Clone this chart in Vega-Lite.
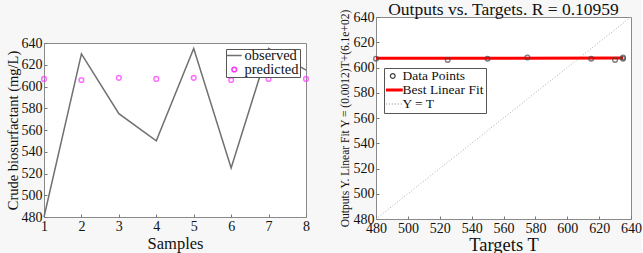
{
  "$schema": "https://vega.github.io/schema/vega-lite/v6.json",
  "background": "#f7f7f7",
  "padding": {"left": 4, "top": 0, "right": 0, "bottom": 0},
  "spacing": 26,
  "datasets": {
    "left": [
      {"sample": 1, "value": 480, "series": "observed"},
      {"sample": 2, "value": 630, "series": "observed"},
      {"sample": 3, "value": 575, "series": "observed"},
      {"sample": 4, "value": 550, "series": "observed"},
      {"sample": 5, "value": 635, "series": "observed"},
      {"sample": 6, "value": 525, "series": "observed"},
      {"sample": 7, "value": 635, "series": "observed"},
      {"sample": 8, "value": 615, "series": "observed"},
      {"sample": 1, "value": 607, "series": "predicted"},
      {"sample": 2, "value": 606, "series": "predicted"},
      {"sample": 3, "value": 608, "series": "predicted"},
      {"sample": 4, "value": 607, "series": "predicted"},
      {"sample": 5, "value": 608, "series": "predicted"},
      {"sample": 6, "value": 606, "series": "predicted"},
      {"sample": 7, "value": 607, "series": "predicted"},
      {"sample": 8, "value": 607, "series": "predicted"}
    ],
    "right": [
      {"t": 480, "y": 480, "series": "Y = T"},
      {"t": 640, "y": 640, "series": "Y = T"},
      {"t": 480, "y": 607.3, "series": "Best Linear Fit"},
      {"t": 635, "y": 607.5, "series": "Best Linear Fit"},
      {"t": 480, "y": 607, "series": "Data Points"},
      {"t": 630, "y": 606, "series": "Data Points"},
      {"t": 575, "y": 608, "series": "Data Points"},
      {"t": 550, "y": 607, "series": "Data Points"},
      {"t": 635, "y": 608, "series": "Data Points"},
      {"t": 525, "y": 606, "series": "Data Points"},
      {"t": 635, "y": 607, "series": "Data Points"},
      {"t": 615, "y": 607, "series": "Data Points"}
    ]
  },
  "resolve": {
    "scale": {"color": "independent", "shape": "independent"},
    "legend": {"color": "independent", "shape": "independent"}
  },
  "hconcat": [
    {
      "spacing": 0,
      "resolve": {
        "scale": {"color": "independent", "shape": "independent", "x": "independent", "y": "independent"},
        "legend": {"color": "independent", "shape": "independent"}
      },
      "vconcat": [
        {
          "width": 262,
          "height": 18,
          "data": {"values": []},
          "mark": "point",
          "view": {"stroke": null, "fill": null}
        },
        {
          "width": 262,
          "height": 174,
          "data": {"name": "left"},
          "encoding": {
            "x": {
              "field": "sample", "type": "quantitative",
              "scale": {"domain": [1, 8], "nice": false},
              "axis": {"values": [1, 2, 3, 4, 5, 6, 7, 8], "title": "Samples", "titleFontSize": 16.5, "titlePadding": 2}
            },
            "y": {
              "field": "value", "type": "quantitative",
              "scale": {"domain": [480, 640], "nice": false},
              "axis": {"values": [480, 500, 520, 540, 560, 580, 600, 620, 640], "title": "Crude biosurfactant (mg/L)", "titleFontSize": 14.5, "titlePadding": 1}
            },
            "color": {
              "field": "series", "type": "nominal",
              "scale": {"domain": ["observed", "predicted"], "range": ["#707070", "#ff33ff"]},
              "legend": {
                "orient": "top-right", "offset": 6, "title": null, "labelFontSize": 14.5,
                "rowPadding": -1, "padding": 1, "clipHeight": 11,
                "encode": {"symbols": {"update": {"size": {"signal": "datum.value === 'observed' ? 225 : 22"}}}}
              }
            }
          },
          "layer": [
            {
              "transform": [{"filter": "datum.series === 'observed'"}],
              "mark": {"type": "line", "strokeWidth": 1.5}
            },
            {
              "transform": [{"filter": "datum.series === 'predicted'"}],
              "mark": {"type": "point", "filled": false, "size": 22, "strokeWidth": 1.5},
              "encoding": {
                "shape": {
                  "field": "series", "type": "nominal",
                  "scale": {"domain": ["observed", "predicted"], "range": ["stroke", "circle"]},
                  "legend": {
                    "orient": "top-right", "offset": 6, "title": null, "labelFontSize": 14.5,
                    "rowPadding": -1, "padding": 1, "clipHeight": 11,
                    "encode": {"symbols": {"update": {"size": {"signal": "datum.value === 'observed' ? 225 : 22"}}}}
                  }
                }
              }
            }
          ]
        }
      ]
    },
    {
      "width": 255,
      "height": 202,
      "title": {"text": "Outputs vs. Targets. R = 0.10959", "fontSize": 17.5, "offset": -10},
      "data": {"name": "right"},
      "encoding": {
        "x": {
          "field": "t", "type": "quantitative",
          "scale": {"domain": [480, 640], "nice": false},
          "axis": {"values": [480, 500, 520, 540, 560, 580, 600, 620, 640], "title": "Targets T", "titleFontSize": 18.5, "titlePadding": 0}
        },
        "y": {
          "field": "y", "type": "quantitative",
          "scale": {"domain": [480, 640], "nice": false},
          "axis": {"values": [480, 500, 520, 540, 560, 580, 600, 620, 640], "title": "Outputs Y. Linear Fit Y = (0.0012)T+(6.1e+02)", "titleFontSize": 11.5, "titlePadding": 3}
        },
        "color": {
          "field": "series", "type": "nominal",
          "scale": {"domain": ["Data Points", "Best Linear Fit", "Y = T"], "range": ["#444444", "#ff0000", "#aaaaaa"]},
          "legend": {
            "orient": "none", "legendX": 8, "legendY": 51, "title": null, "labelFontSize": 13.5,
            "rowPadding": 0, "padding": 2, "clipHeight": 12,
            "encode": {"symbols": {"update": {
              "size": {"signal": "datum.value === 'Data Points' ? 22 : 400"},
              "strokeWidth": {"signal": "datum.value === 'Best Linear Fit' ? 3 : 1.3"},
              "strokeDash": {"signal": "datum.value === 'Y = T' ? [1, 2] : [1, 0]"}
            }}}
          }
        }
      },
      "layer": [
        {
          "transform": [{"filter": "datum.series === 'Y = T'"}],
          "mark": {"type": "line", "strokeWidth": 1, "strokeDash": [1, 2]}
        },
        {
          "transform": [{"filter": "datum.series === 'Best Linear Fit'"}],
          "mark": {"type": "line", "strokeWidth": 3}
        },
        {
          "transform": [{"filter": "datum.series === 'Data Points'"}],
          "mark": {"type": "point", "filled": false, "size": 22, "strokeWidth": 1.3},
          "encoding": {
            "shape": {
              "field": "series", "type": "nominal",
              "scale": {"domain": ["Data Points", "Best Linear Fit", "Y = T"], "range": ["circle", "stroke", "stroke"]},
              "legend": {
                "orient": "none", "legendX": 8, "legendY": 51, "title": null, "labelFontSize": 13.5,
                "rowPadding": 0, "padding": 2, "clipHeight": 12,
                "encode": {"symbols": {"update": {
                  "size": {"signal": "datum.value === 'Data Points' ? 22 : 400"},
                  "strokeWidth": {"signal": "datum.value === 'Best Linear Fit' ? 3 : 1.3"},
                  "strokeDash": {"signal": "datum.value === 'Y = T' ? [1, 2] : [1, 0]"}
                }}}
              }
            }
          }
        }
      ]
    }
  ],
  "config": {
    "font": "Liberation Serif",
    "view": {"stroke": "#8a8a8a", "fill": "white"},
    "title": {"font": "Liberation Serif", "fontWeight": "normal", "color": "#111"},
    "axis": {
      "labelFont": "Liberation Serif", "titleFont": "Liberation Serif",
      "labelFontSize": 14, "labelColor": "#111", "titleColor": "#111",
      "titleFontWeight": "normal", "grid": false, "domain": false,
      "tickSize": -3, "tickColor": "#777", "labelPadding": 5,
      "labelFlush": false, "labelOverlap": false
    },
    "legend": {
      "labelFont": "Liberation Serif", "labelColor": "#111",
      "strokeColor": "#555", "fillColor": "white",
      "symbolStrokeWidth": 1.5, "labelOffset": 3, "labelLimit": 200
    }
  }
}
